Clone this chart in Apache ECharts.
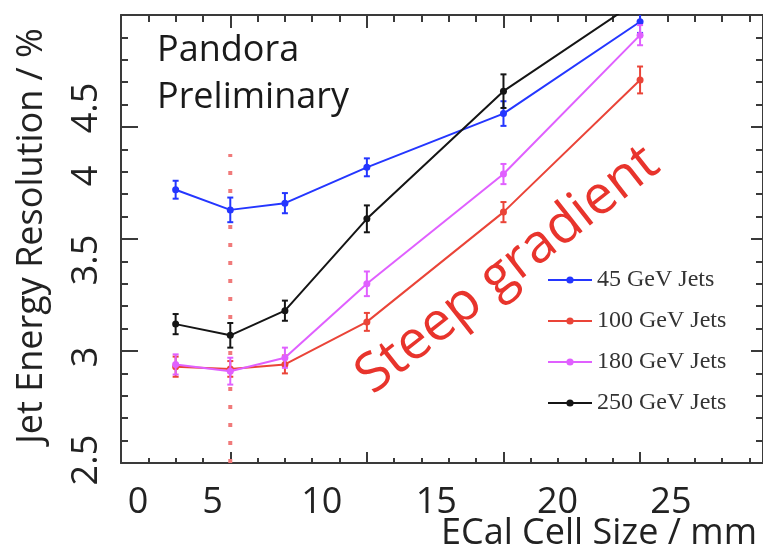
<!DOCTYPE html>
<html>
<head>
<meta charset="utf-8">
<script src="https://cdn.jsdelivr.net/npm/echarts@6/dist/echarts.min.js"></script>
<style>
  html, body { margin: 0; padding: 0; background: #fff; }
  #main { width: 763px; height: 554px; }
</style>
</head>
<body>
<div id="main"></div>
<script>
// cell sizes in mm
const cellSize = [3, 5, 7, 10, 15, 20];
// jet energy resolution in %
const res45 = [3.72, 3.63, 3.66, 3.82, 4.06, 4.47];
const res100 = [2.93, 2.92, 2.94, 3.13, 3.62, 4.21];
const res180 = [2.94, 2.91, 2.97, 3.30, 3.79, 4.41];
const res250 = [3.12, 3.07, 3.18, 3.59, 4.16, 4.57];
// error bars (half length)
const err45 = [0.04, 0.055, 0.045, 0.04, 0.055, 0.05];
const err100 = [0.045, 0.035, 0.04, 0.04, 0.045, 0.06];
const err180 = [0.045, 0.06, 0.045, 0.055, 0.045, 0.045];
const err250 = [0.045, 0.055, 0.045, 0.06, 0.075, 0.06];
const seriesNames = ['45 GeV Jets', '100 GeV Jets', '180 GeV Jets', '250 GeV Jets'];
const seriesColors = ['#2436ff', '#ea4438', '#e060ff', '#151515'];
// the pasted-on tick labels do not sit on the ticks, keep them where they are
const xLabelPos = [1.62, 4.35, 8.35, 12.54, 16.98, 21.13];
const xLabelText = ['0', '5', '10', '15', '20', '25'];
const yLabelPos = [2.513, 2.973, 3.406, 3.781, 4.085];
const yLabelText = ['2.5', '3', '3.5', '4', '4.5'];
const xMajor = [5, 10, 15, 20];
const markX = 5;
const markTop = 3.88;

const font = '"Open Sans", sans-serif';
const frame = '#3a3a3a';

function pick(pos, txt) {
  return function (v) {
    let best = 0;
    for (let i = 0; i < pos.length; i++) {
      if (Math.abs(pos[i] - v) < Math.abs(pos[best] - v)) best = i;
    }
    return txt[best];
  };
}

function errorBar(color) {
  return function (params, api) {
    const x = api.value(0), y = api.value(1), e = api.value(2);
    const lo = api.coord([x, y - e]);
    const hi = api.coord([x, y + e]);
    const w = 3;
    const style = { stroke: color, lineWidth: 2 };
    return {
      type: 'group',
      children: [
        { type: 'line', shape: { x1: lo[0], y1: lo[1], x2: hi[0], y2: hi[1] }, style: style },
        { type: 'line', shape: { x1: lo[0] - w, y1: lo[1], x2: lo[0] + w, y2: lo[1] }, style: style },
        { type: 'line', shape: { x1: hi[0] - w, y1: hi[1], x2: hi[0] + w, y2: hi[1] }, style: style }
      ]
    };
  };
}

const values = [res45, res100, res180, res250];
const errs = [err45, err100, err180, err250];
let series = [];
for (let i = 0; i < values.length; i++) {
  series.push({
    name: seriesNames[i],
    type: 'line',
    data: cellSize.map((x, j) => [x, values[i][j]]),
    symbol: 'circle',
    symbolSize: 7,
    color: seriesColors[i],
    lineStyle: { width: 2, color: seriesColors[i] },
    itemStyle: { color: seriesColors[i] },
    z: 3 + i
  });
  series.push({
    type: 'custom',
    data: cellSize.map((x, j) => [x, values[i][j], errs[i][j]]),
    encode: { x: 0, y: 1 },
    renderItem: errorBar(seriesColors[i]),
    clip: true,
    silent: true,
    z: 3 + i
  });
}
series.push({
  type: 'line',
  data: [[markX, 2.5], [markX, markTop]],
  symbol: 'none',
  silent: true,
  lineStyle: { color: '#f07a7a', width: 4, type: [4, 14] },
  z: 2
});

const gridBox = { left: 121, right: -4, top: 15, bottom: 91 };

const myChart = echarts.init(document.getElementById('main'));
const option = {
  animation: false,
  backgroundColor: '#fff',
  grid: [
    Object.assign({ show: false }, gridBox),
    Object.assign({ show: false }, gridBox)
  ],
  legend: {
    data: seriesNames,
    orient: 'vertical',
    left: 542,
    top: 263,
    itemWidth: 44,
    itemHeight: 9,
    itemGap: 17,
    textStyle: { fontFamily: '"Liberation Serif", serif', fontSize: 24, color: '#333' }
  },
  xAxis: [
    {
      gridIndex: 0, type: 'value', position: 'bottom', min: 1, max: 24.5,
      axisLine: { show: true, onZero: false, lineStyle: { color: frame, width: 2 } },
      axisTick: { show: true, inside: true, length: 11, customValues: xMajor, lineStyle: { color: frame, width: 2 } },
      axisLabel: { customValues: xLabelPos, formatter: pick(xLabelPos, xLabelText), margin: 22, fontSize: 36, fontFamily: font, color: '#222' },
      splitLine: { show: false }
    },
    {
      gridIndex: 0, type: 'value', position: 'top', min: 1, max: 24.5,
      axisLine: { show: true, onZero: false, lineStyle: { color: frame, width: 2 } },
      axisTick: { show: true, inside: true, length: 13, customValues: xMajor, lineStyle: { color: frame, width: 2 } },
      axisLabel: { show: false },
      splitLine: { show: false }
    },
    {
      gridIndex: 1, type: 'value', position: 'bottom', min: 1, max: 24.5, interval: 1,
      axisLine: { show: false },
      axisTick: { show: true, inside: true, length: 5, lineStyle: { color: frame, width: 2 } },
      axisLabel: { show: false },
      splitLine: { show: false }
    },
    {
      gridIndex: 1, type: 'value', position: 'top', min: 1, max: 24.5, interval: 1,
      axisLine: { show: false },
      axisTick: { show: true, inside: true, length: 7, lineStyle: { color: frame, width: 2 } },
      axisLabel: { show: false },
      splitLine: { show: false }
    }
  ],
  yAxis: [
    {
      gridIndex: 0, type: 'value', position: 'left', min: 2.5, max: 4.5, interval: 0.5,
      axisLine: { show: true, onZero: false, lineStyle: { color: frame, width: 2 } },
      axisTick: { show: true, inside: true, length: 17, lineStyle: { color: frame, width: 2 } },
      axisLabel: { customValues: yLabelPos, formatter: pick(yLabelPos, yLabelText), rotate: 90, margin: 16, fontSize: 36, fontFamily: font, color: '#222' },
      splitLine: { show: false }
    },
    {
      gridIndex: 0, type: 'value', position: 'right', min: 2.5, max: 4.5, interval: 0.5,
      axisLine: { show: true, onZero: false, lineStyle: { color: frame, width: 2 } },
      axisTick: { show: true, inside: true, length: 12, lineStyle: { color: frame, width: 2 } },
      axisLabel: { show: false },
      splitLine: { show: false }
    },
    {
      gridIndex: 1, type: 'value', position: 'left', min: 2.5, max: 4.5, interval: 0.1,
      axisLine: { show: false },
      axisTick: { show: true, inside: true, length: 7, lineStyle: { color: frame, width: 2 } },
      axisLabel: { show: false },
      splitLine: { show: false }
    },
    {
      gridIndex: 1, type: 'value', position: 'right', min: 2.5, max: 4.5, interval: 0.1,
      axisLine: { show: false },
      axisTick: { show: true, inside: true, length: 7, lineStyle: { color: frame, width: 2 } },
      axisLabel: { show: false },
      splitLine: { show: false }
    }
  ],
  graphic: [
    { type: 'text', left: 157, top: 33, style: { text: 'Pandora', font: '36px ' + font, fill: '#1a1a1a' } },
    { type: 'text', left: 157, top: 80, style: { text: 'Preliminary', font: '36px ' + font, fill: '#1a1a1a' } },
    {
      type: 'text', x: 508, y: 270, rotation: 38 * Math.PI / 180,
      style: { text: 'Steep gradient', font: '54px ' + font, fill: '#e8342c', align: 'center', verticalAlign: 'middle' }
    },
    {
      type: 'text', x: 32, y: 236, rotation: Math.PI / 2,
      style: { text: 'Jet Energy Resolution / %', font: '36px ' + font, fill: '#222', align: 'center', verticalAlign: 'middle' }
    },
    {
      type: 'text', x: 757, y: 534,
      style: { text: 'ECal Cell Size / mm', font: '36px ' + font, fill: '#222', align: 'right', verticalAlign: 'middle' }
    }
  ],
  series: series
};
myChart.setOption(option);
window.onresize = myChart.resize;
</script>
</body>
</html>
